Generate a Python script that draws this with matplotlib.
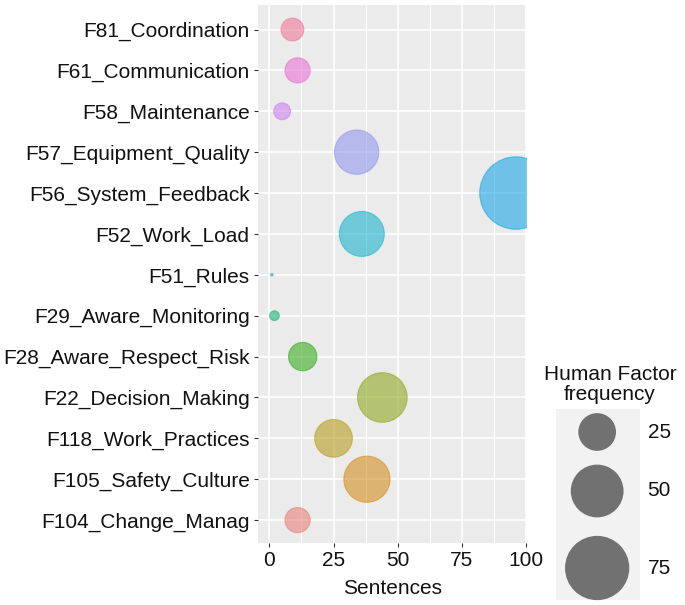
import numpy as np
import matplotlib.pyplot as plt
from matplotlib.colors import to_rgb

# Data (bottom to top, as on the y axis)
factors = ["F104_Change_Manag", "F105_Safety_Culture", "F118_Work_Practices",
           "F22_Decision_Making", "F28_Aware_Respect_Risk", "F29_Aware_Monitoring",
           "F51_Rules", "F52_Work_Load", "F56_System_Feedback",
           "F57_Equipment_Quality", "F58_Maintenance", "F61_Communication",
           "F81_Coordination"]
sentences = [11, 38, 25, 44, 13, 2, 1, 36, 96, 34, 5, 11, 9]
frequency = [11, 38, 25, 44, 14, 2, 1, 36, 96, 35, 5, 11, 9]
hue_colors = ["#F8766D", "#E18A00", "#BE9C00", "#8CAB00", "#24B700", "#00BE70",
              "#00C1AB", "#00BBDA", "#00ACFC", "#8B93FF", "#D575FE", "#F962DD",
              "#FF6C91"]
legend_values = [25, 50, 75]
x_ticks = [0, 25, 50, 75, 100]

plt.rcParams['font.family'] = ['Liberation Sans', 'DejaVu Sans']

DPI = 100
FS = 15
fmin, fmax = min(frequency), max(frequency)


def marker_area(v):
    # ggplot-like area scale: radius grows with sqrt of rescaled value
    d_px = 2.5 + 70 * np.sqrt((np.asarray(v, float) - fmin) / (fmax - fmin))
    d_pt = d_px * 72 / DPI
    return d_pt ** 2


def muted(c, k=0.18):
    # the printed figure looks a bit washed out
    rgb = np.array(to_rgb(c))
    grey = 0.3 * rgb[0] + 0.59 * rgb[1] + 0.11 * rgb[2]
    return tuple(rgb * (1 - k) + grey * k)


W, H = 685, 605
fig = plt.figure(figsize=(W / DPI, H / DPI), dpi=DPI)

# main panel
ax = fig.add_axes([258 / W, 62 / H, (527 - 258) / W, (600 - 62) / H])
ax.set_facecolor("#EBEBEB")
ypos = np.arange(1, len(factors) + 1)
cols = [muted(c) for c in hue_colors]
ax.scatter(sentences, ypos, s=marker_area(frequency), c=cols,
           alpha=0.58, edgecolors=cols, linewidths=0.8, zorder=3)

ax.set_xlim(-4.4, 100.3)
ax.set_ylim(0.44, 13.6)
ax.set_xticks(x_ticks)
ax.set_xticks([12.5, 37.5, 62.5, 87.5], minor=True)
ax.set_yticks(ypos)
ax.set_yticklabels(factors)
ax.grid(True, which="major", color="white", linewidth=1.2, zorder=1)
ax.grid(True, which="minor", axis="x", color="white", linewidth=0.8, zorder=1)
ax.set_axisbelow(True)
for sp in ax.spines.values():
    sp.set_visible(False)
ax.tick_params(axis="both", which="major", length=3, width=0.8, color="#333333",
               labelsize=FS, labelcolor="#111111", pad=3)
ax.tick_params(axis="both", which="minor", length=0)
ax.set_xlabel("Sentences", fontsize=FS, color="#111111", labelpad=6)

# size legend
fig.text(610 / W, 1 - 374 / H, "Human Factor", ha="center", va="center",
         fontsize=FS, color="#111111")
fig.text(610 / W, 1 - 395 / H, "frequency", ha="center", va="center",
         fontsize=FS, color="#111111")
lax = fig.add_axes([556 / W, 5 / H, (640 - 556) / W, (600 - 409) / H])
lax.set_facecolor("#F2F2F2")
lax.set_xlim(0, 1)
lax.set_ylim(0, 1)
key_y = [1 - (432 - 409) / 191, 1 - (491 - 409) / 191, 1 - (568 - 409) / 191]
lax.scatter([0.49] * 3, key_y, s=marker_area(legend_values), color="#5a5a5a",
            alpha=0.85, edgecolors="none", clip_on=False)
for sp in lax.spines.values():
    sp.set_visible(False)
lax.set_xticks([])
lax.set_yticks([])
for v, yk in zip(legend_values, key_y):
    lax.text(1.09, yk, str(v), ha="left", va="center", fontsize=FS,
             color="#111111", transform=lax.transAxes)

fig.savefig("out.png", dpi=DPI)
